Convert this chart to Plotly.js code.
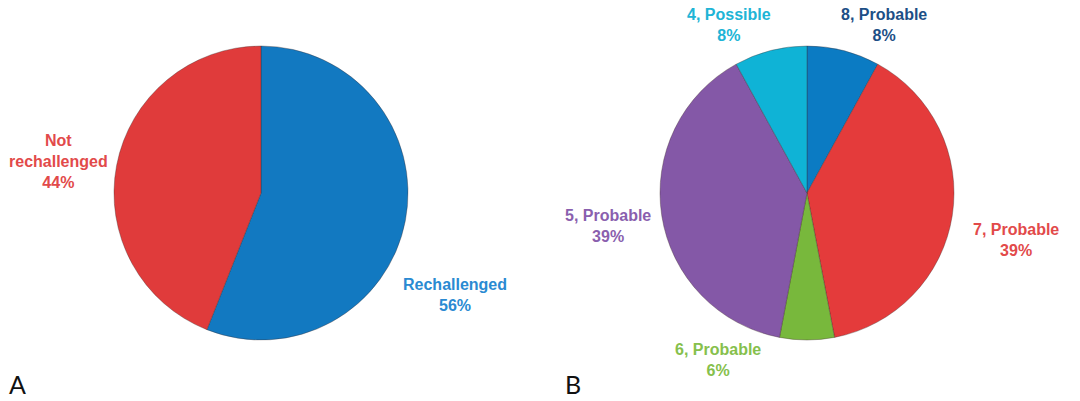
<!DOCTYPE html>
<html>
<head>
<meta charset="utf-8">
<script src="https://cdn.plot.ly/plotly-3.0.1.min.js"></script>
<style>html,body{margin:0;padding:0;background:#fff;}#chart{width:1080px;height:401px;}</style>
</head>
<body>
<div id="chart"></div>
<script>
// Panel A
const aLabels = ['Rechallenged', 'Not rechallenged'];
const aText = ['Rechallenged', 'Not<br>rechallenged'];
const aValues = [56, 44];
const aColors = ['#1279c1', '#e03b3b'];
const aTextColors = ['#2a8ad2', '#e24a4a'];

// Panel B
const bLabels = ['8, Probable', '7, Probable', '6, Probable', '5, Probable', '4, Possible'];
const bValues = [8, 39, 6, 39, 8];
const bColors = ['#0b7bc3', '#e43b3b', '#78b83c', '#8458a7', '#0fb3d6'];
const bTextColors = ['#1d4f86', '#e24a4a', '#86c04c', '#8a5fae', '#20b4d6'];

// label anchor positions (paper coords, layout only)
const aPos = [[455/1080, 1-295/401], [58/1080, 1-161/401]];
const bPos = [[884/1080, 1-25.5/401], [1016/1080, 1-239.5/401], [718/1080, 1-359.5/401], [608/1080, 1-225.5/401], [729/1080, 1-25.5/401]];

function pct(vals, i){ const s = vals.reduce((a,b)=>a+b,0); return Math.round(vals[i]/s*100) + '%'; }

const lineStyle = {color: 'rgba(60,40,40,0.35)', width: 1};

const traces = [
  {type:'pie', labels:aLabels, values:aValues, sort:false, direction:'clockwise', rotation:0,
   marker:{colors:aColors, line:lineStyle}, textinfo:'none', hoverinfo:'label+percent',
   domain:{x:[114/1080, 408/1080], y:[1-340/401, 1-46/401]}, showlegend:false},
  {type:'pie', labels:bLabels, values:bValues, sort:false, direction:'clockwise', rotation:0,
   marker:{colors:bColors, line:lineStyle}, textinfo:'none', hoverinfo:'label+percent',
   domain:{x:[660/1080, 954/1080], y:[1-340/401, 1-46/401]}, showlegend:false}
];

const font = {family:'Liberation Sans, Arial, sans-serif', size:16};
const annotations = [];
aText.forEach((t,i)=>annotations.push({xref:'paper', yref:'paper', x:aPos[i][0], y:aPos[i][1], xanchor:'center', yanchor:'middle', align:'center', showarrow:false,
  text:'<b>'+t+'<br>'+pct(aValues,i)+'</b>', font:Object.assign({}, font, {color:aTextColors[i]})}));
bLabels.forEach((t,i)=>annotations.push({xref:'paper', yref:'paper', x:bPos[i][0], y:bPos[i][1], xanchor:'center', yanchor:'middle', align:'center', showarrow:false,
  text:'<b>'+t+'<br>'+pct(bValues,i)+'</b>', font:Object.assign({}, font, {color:bTextColors[i]})}));
annotations.push({xref:'paper', yref:'paper', x:7/1080, y:1-384/401, xanchor:'left', yanchor:'middle', showarrow:false, text:'A', font:{family:'Lato, Noto Sans, sans-serif', size:25, color:'#111'}});
annotations.push({xref:'paper', yref:'paper', x:563/1080, y:1-384/401, xanchor:'left', yanchor:'middle', showarrow:false, text:'B', font:{family:'Lato, Noto Sans, sans-serif', size:25, color:'#111'}});

const layout = {width:1080, height:401, margin:{l:0,r:0,t:0,b:0}, paper_bgcolor:'#fff', plot_bgcolor:'#fff', showlegend:false, annotations:annotations};
Plotly.newPlot('chart', traces, layout, {displayModeBar:false, staticPlot:true});
</script>
</body>
</html>
